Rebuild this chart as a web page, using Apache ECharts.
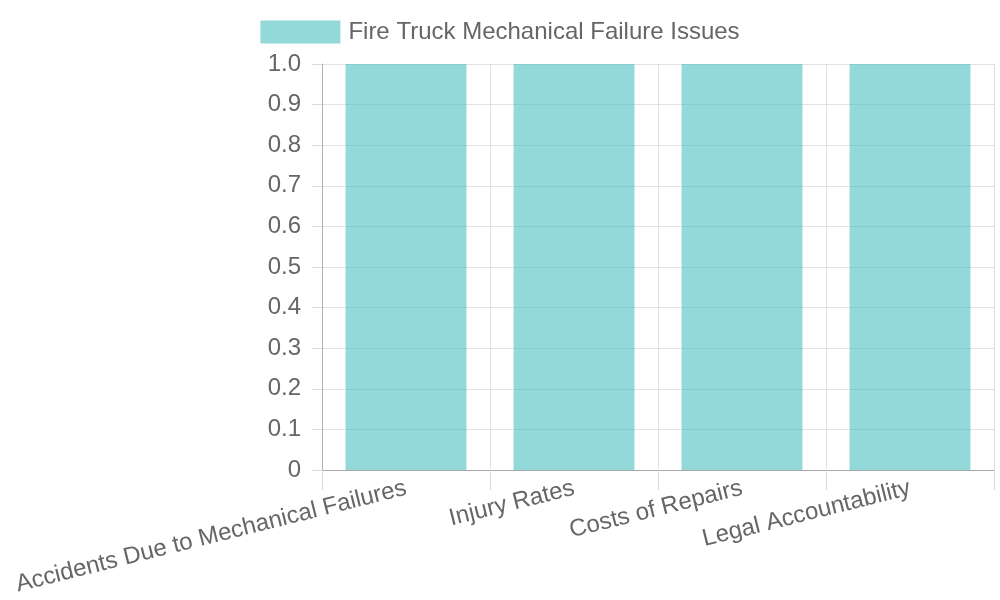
<!DOCTYPE html>
<html lang="en">
<head>
    <meta charset="UTF-8">
    <title>Fire Truck Mechanical Failure Issues</title>
    <script src="https://cdn.jsdelivr.net/npm/echarts@6/dist/echarts.min.js"></script>
    <style>
        html, body { margin: 0; padding: 0; background: #fff; }
    </style>
</head>
<body>
<div id="main" style="width: 1000px;height: 600px"></div>
<script type="text/javascript">
    var categories = ['Accidents Due to Mechanical Failures', 'Injury Rates', 'Costs of Repairs', 'Legal Accountability'];
    var seriesName = 'Fire Truck Mechanical Failure Issues';
    var values = [1.0, 1.0, 1.0, 1.0];

    var myChart = echarts.init(document.getElementById('main'));

    var option = {
        animation: false,
        textStyle: {fontFamily: 'Liberation Sans, Arial, sans-serif'},
        legend: {
            top: 15,
            left: 'center',
            itemWidth: 80,
            itemHeight: 23,
            itemGap: 12,
            icon: 'rect',
            textStyle: {fontSize: 24, color: '#666', padding: [0, 0, 0, 3]},
            data: [seriesName]
        },
        grid: {left: 322, right: 6, top: 64, bottom: 130},
        xAxis: {
            type: 'category',
            data: categories,
            boundaryGap: true,
            axisLine: {lineStyle: {color: '#a8a8a8', width: 1}},
            axisTick: {show: true, length: 20, lineStyle: {color: '#dcdcdc'}},
            splitLine: {show: true, lineStyle: {color: '#e2e2e2'}},
            axisLabel: {
                interval: 0,
                rotate: 14,
                margin: 18,
                fontSize: 24,
                color: '#666'
            }
        },
        yAxis: {
            type: 'value',
            min: 0,
            max: 1,
            interval: 0.1,
            axisLine: {show: true, lineStyle: {color: '#b0b0b0'}},
            axisTick: {show: true, length: 10, lineStyle: {color: '#dcdcdc'}},
            splitLine: {show: true, lineStyle: {color: '#e2e2e2'}},
            axisLabel: {
                margin: 21,
                fontSize: 24,
                color: '#666',
                formatter: function (v) { return v === 0 ? '0' : v.toFixed(1); }
            }
        },
        series: [{
            name: seriesName,
            type: 'bar',
            data: values,
            barWidth: '72%',
            itemStyle: {
                color: 'rgba(75, 192, 192, 0.6)',
                borderWidth: 0
            }
        }]
    };

    myChart.setOption(option);
</script>
</body>
</html>
